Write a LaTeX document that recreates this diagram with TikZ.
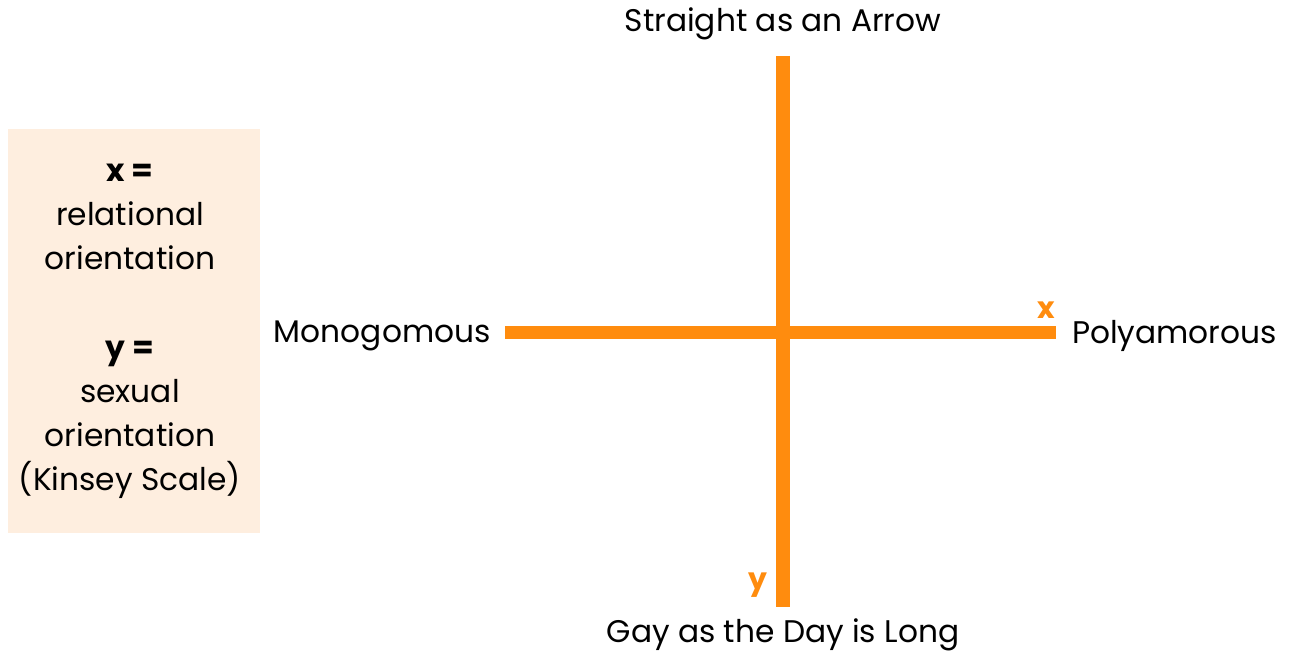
\documentclass[tikz,border=0pt]{standalone}
\usepackage{fontspec}
\setmainfont{Poppins}
\usepackage{tikz}
\usetikzlibrary{positioning}
\usepackage{xcolor}
\definecolor{axisorange}{HTML}{FF8C0E}
\definecolor{keyfill}{HTML}{FEEEDF}

\begin{document}
\begin{tikzpicture}[
  x=0.02cm, y=-0.02cm,
  axis/.style={draw=axisorange, line width=7.5pt},
  pole/.style={font=\fontsize{17.8}{21}\selectfont, text=black, inner sep=0pt},
  tag/.style={font=\fontsize{17}{20}\selectfont\bfseries, text=axisorange, inner sep=0pt},
  keytext/.style={font=\fontsize{17.8}{25}\selectfont, align=center, inner sep=0pt},
]
\useasboundingbox (0,0) rectangle (1295,652);

%% Key box on the left
\fill[keyfill] (8,129) rectangle (260,533);
\node[keytext] (xkey) at (130,217) {\textbf{x =}\\relational\\orientation};
\node[keytext] (ykey) at (130,420) {\textbf{y =}\\sexual\\orientation\\(Kinsey Scale)};

%% Axis end points
\coordinate (top)    at (783,56);
\coordinate (bottom) at (783,607);
\coordinate (left)   at (505,332.5);
\coordinate (right)  at (1056,332.5);

%% Axes
\draw[axis] (left) -- (right);
\draw[axis] (top) -- (bottom);

%% Pole labels
\node[pole, above=14pt of top, anchor=base] (straight) {Straight as an Arrow};
\node[pole, below=20pt of bottom, anchor=base] (gay) {Gay as the Day is Long};
\node[pole, left=8pt of left, yshift=-1.7pt] (mono) {Monogomous};
\node[pole, right=9pt of right, yshift=-1.7pt] (poly) {Polyamorous};

%% Axis tags
\node[tag] (xtag) at (1046,310) {x};
\node[tag] (ytag) at (758,585) {y};
\end{tikzpicture}
\end{document}
